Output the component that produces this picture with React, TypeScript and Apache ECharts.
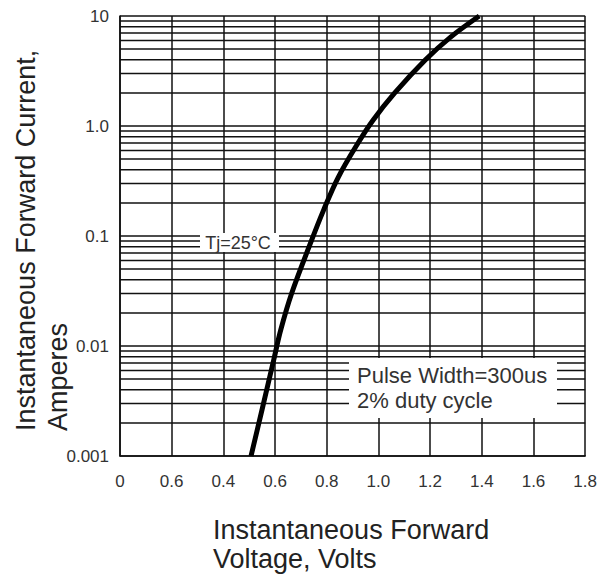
import React, { useEffect, useRef } from "react";
import * as echarts from "echarts";

const voltage = [0.507, 0.549, 0.595, 0.622, 0.664, 0.737, 0.787, 0.844, 0.921, 0.979, 1.063, 1.182, 1.278, 1.39];
const current = [0.001, 0.0026, 0.0075, 0.014, 0.03, 0.086, 0.17, 0.34, 0.7, 1.13, 2.0, 4.0, 6.4, 10];

const xTickLabels = ["0", "0.6", "0.4", "0.6", "0.8", "1.0", "1.2", "1.4", "1.6", "1.8"];
const yTickValues = [0.001, 0.01, 0.1, 1, 10];
const yTickLabels = ["0.001", "0.01", "0.1", "1.0", "10"];
const minorGridValues = [
  0.002, 0.003, 0.004, 0.005, 0.006, 0.007, 0.008, 0.009,
  0.02, 0.03, 0.04, 0.05, 0.06, 0.07, 0.08, 0.09,
  0.2, 0.3, 0.4, 0.5, 0.6, 0.7, 0.8, 0.9,
  2, 3, 4, 5, 6, 7, 8, 9,
];
const xMin = 0;
const xMax = 1.8;

const FONT = "'Liberation Sans', Arial, Helvetica, sans-serif";

export default function App() {
  const ref = useRef<HTMLDivElement>(null);
  useEffect(() => {
    if (!ref.current) return;
    const chart = echarts.init(ref.current, undefined, { renderer: "svg" });
    const gridColor = "#111";
    const minorSeries = minorGridValues.map((v) => ({
      type: "line",
      data: [
        [xMin, v],
        [xMax, v],
      ],
      showSymbol: false,
      symbol: "none",
      silent: true,
      z: 1,
      lineStyle: { color: gridColor, width: 1.5 },
    }));
    const option = {
      animation: false,
      backgroundColor: "#fff",
      grid: { left: 120, right: 11, top: 16, bottom: 119, containLabel: false },
      xAxis: {
        type: "value",
        min: xMin,
        max: xMax,
        interval: 0.2,
        axisLine: { show: true, lineStyle: { color: gridColor, width: 1.6 } },
        axisTick: { show: false },
        splitLine: { show: true, lineStyle: { color: gridColor, width: 1.5 } },
        axisLabel: {
          margin: 17,
          color: "#333",
          fontSize: 17,
          fontFamily: FONT,
          formatter: (v: number) => xTickLabels[Math.round(v / 0.2)] ?? "",
        },
      },
      yAxis: {
        type: "log",
        logBase: 10,
        min: 0.001,
        max: 10,
        splitNumber: 4,
        axisLine: { show: true, lineStyle: { color: gridColor, width: 1.6 } },
        axisTick: { show: false },
        splitLine: { show: true, lineStyle: { color: gridColor, width: 1.5 } },
        axisLabel: {
          margin: 11,
          color: "#333",
          fontSize: 17,
          fontFamily: FONT,
          formatter: (v: number) => {
            const i = yTickValues.findIndex((t) => Math.abs(Math.log10(t) - Math.log10(v)) < 0.01);
            return i >= 0 ? yTickLabels[i] : "";
          },
        },
      },
      graphic: [
        {
          type: "rect",
          z: 100,
          shape: { x: 200, y: 233, width: 79, height: 19 },
          style: { fill: "#fff" },
        },
        {
          type: "text",
          z: 101,
          x: 238,
          y: 243,
          style: {
            text: "Tj=25°C",
            font: `18px ${FONT}`,
            fill: "#333",
            textAlign: "center",
            textVerticalAlign: "middle",
          },
        },
        {
          type: "rect",
          z: 100,
          shape: { x: 349, y: 358, width: 208, height: 60 },
          style: { fill: "#fff" },
        },
        {
          type: "text",
          z: 101,
          x: 357,
          y: 363,
          style: {
            text: "Pulse Width=300us\n2% duty cycle",
            font: `22px ${FONT}`,
            fill: "#333",
            lineHeight: 25,
            textAlign: "left",
            textVerticalAlign: "top",
          },
        },
        {
          type: "text",
          z: 101,
          x: 10,
          y: 431,
          rotation: Math.PI / 2,
          style: {
            text: "Instantaneous Forward Current,\nAmperes",
            font: `27px ${FONT}`,
            fill: "#222",
            lineHeight: 32,
            textAlign: "left",
            textVerticalAlign: "top",
          },
        },
        {
          type: "text",
          z: 101,
          x: 213,
          y: 515,
          style: {
            text: "Instantaneous Forward\nVoltage, Volts",
            font: `27px ${FONT}`,
            fill: "#222",
            lineHeight: 29,
            textAlign: "left",
            textVerticalAlign: "top",
          },
        },
      ],
      series: [
        ...minorSeries,
        {
          type: "line",
          data: voltage.map((v, i) => [v, current[i]]),
          smooth: 0.35,
          showSymbol: false,
          symbol: "none",
          z: 10,
          lineStyle: { color: "#000", width: 5 },
        },
      ],
    };
    chart.setOption(option as any);
    return () => chart.dispose();
  }, []);
  return (
    <div
      ref={ref}
      style={{ position: "fixed", left: 0, top: 0, width: 600, height: 575, background: "#fff" }}
    />
  );
}
